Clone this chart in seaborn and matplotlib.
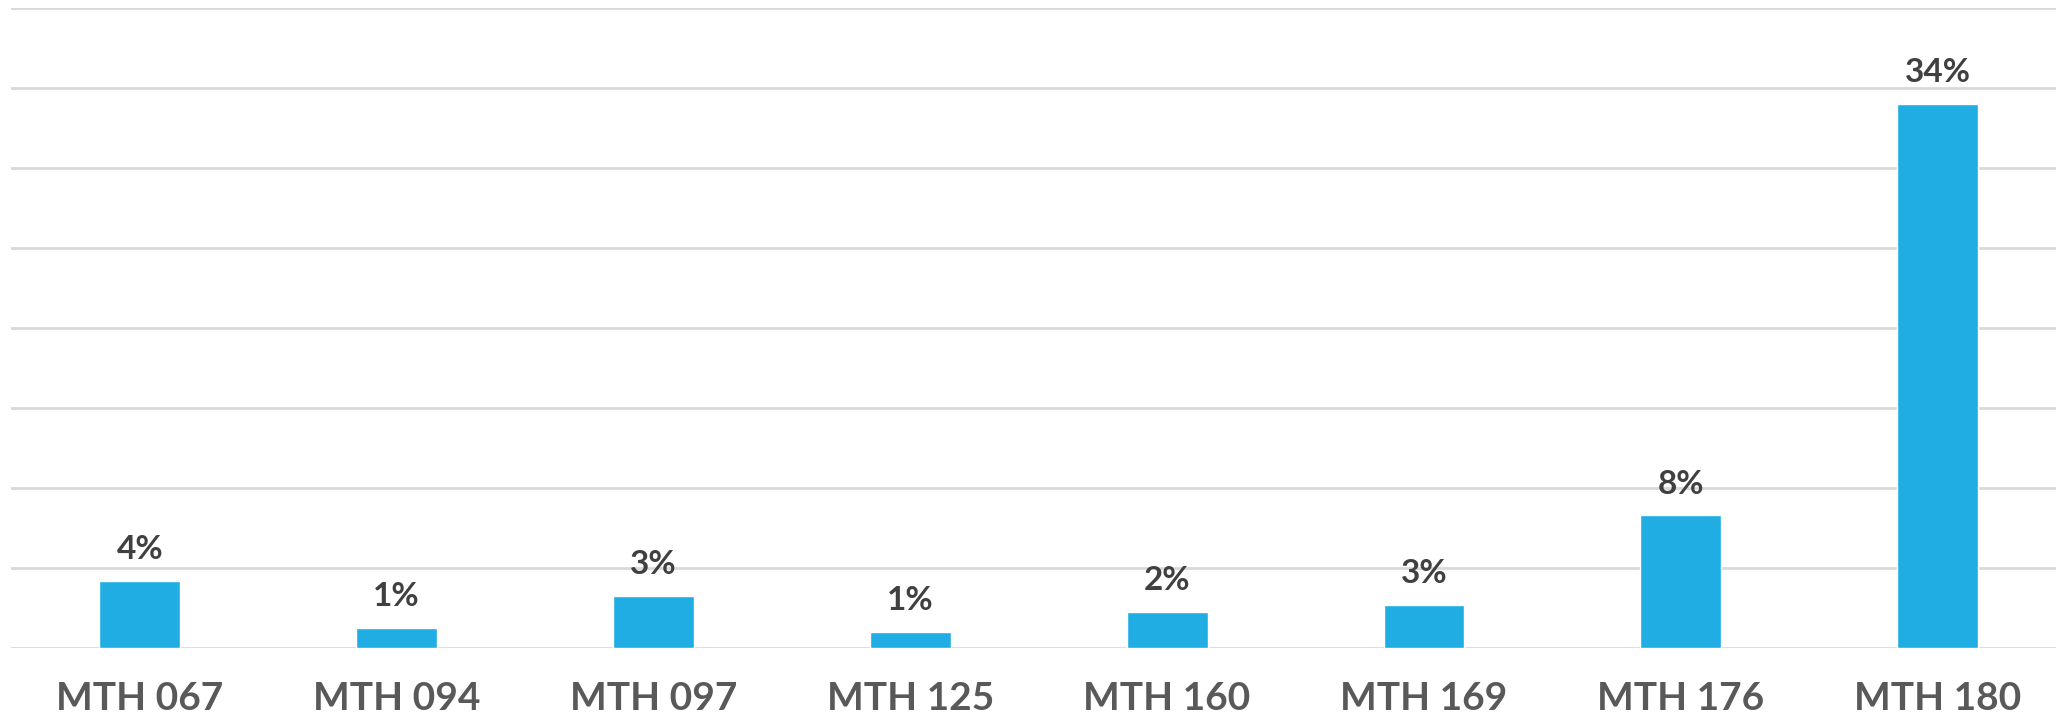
import matplotlib.pyplot as plt
import seaborn as sns

# Share of students per course (percent)
courses = ['MTH 067', 'MTH 094', 'MTH 097', 'MTH 125', 'MTH 160', 'MTH 169', 'MTH 176', 'MTH 180']
values = [4.2, 1.25, 3.25, 1.0, 2.25, 2.7, 8.3, 34.0]
y_ticks = [0, 5, 10, 15, 20, 25, 30, 35, 40]

sns.set_style('white')
plt.rcParams['font.family'] = ['Lato', 'DejaVu Sans']

fig = plt.figure(figsize=(20.56, 7.12), dpi=100)
# plot area runs slightly past the right edge, like the original
ax = fig.add_axes([0.0055, 0.0899, 0.9994, 0.8989])

sns.barplot(x=courses, y=values, color='#1FADE4', saturation=1, width=0.315, ax=ax, zorder=3)

ax.set_ylim(0, 40)
ax.set_xlim(-0.5, len(courses) - 0.5)
ax.set_yticks(y_ticks)
ax.yaxis.grid(True, color='#D9D9D9', linewidth=2)
ax.set_axisbelow(True)
ax.tick_params(axis='y', left=False, labelleft=False)
ax.tick_params(axis='x', bottom=False, pad=20, labelsize=28, labelcolor='#595959')
for lbl in ax.get_xticklabels():
    lbl.set_fontweight('bold')
ax.set(xlabel='', ylabel='')
sns.despine(ax=ax, left=True, bottom=True)

ax.bar_label(ax.containers[0], labels=[f'{v:.0f}%' for v in values],
             padding=12, fontsize=24, fontweight='bold', color='#404040')

fig.savefig('out.png')
